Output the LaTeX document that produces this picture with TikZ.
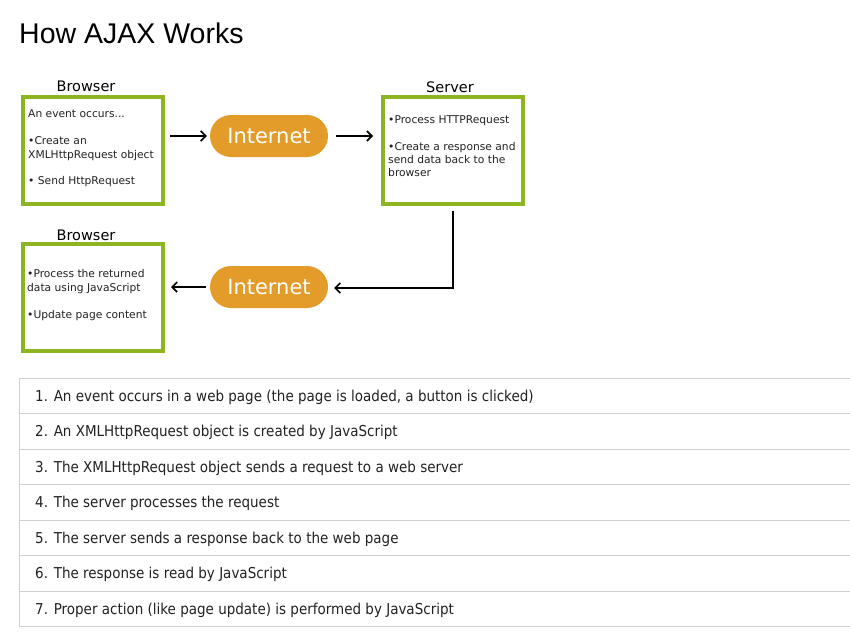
\documentclass[tikz,border=0pt]{standalone}
\usepackage{fontspec}
\setmainfont{DejaVu Sans}
\newfontfamily\titlefont{Liberation Sans}
\newfontfamily\condfont{DejaVu Sans Condensed}
\usetikzlibrary{arrows.meta,calc}
\definecolor{boxgreen}{HTML}{8CB521}
\definecolor{netorange}{HTML}{E39C2A}
\definecolor{rulegray}{HTML}{D0D0D0}
\definecolor{txt}{HTML}{222222}
\begin{document}
\begin{tikzpicture}[x=1pt,y=-1pt,
  gbox/.style={draw=boxgreen,line width=4pt,fill=white,minimum width=140pt,minimum height=107pt,inner sep=0pt},
  boxlabel/.style={font=\fontsize{14.5}{16}\selectfont,anchor=base},
  boxtext/.style={font=\fontsize{10.7}{12}\selectfont,anchor=base west,inner sep=0pt,text=txt},
  net/.style={fill=netorange,rounded corners=21pt,minimum width=118pt,minimum height=42pt,inner sep=0pt,text=white,font=\fontsize{21}{24}\selectfont},
  flow/.style={line width=1.8pt,-{Straight Barb[length=5pt,width=10pt,line width=1.6pt]}},
  rowtext/.style={font=\condfont\fontsize{15}{17}\selectfont,anchor=base west,inner sep=0pt,text=txt},
  rowline/.style={draw=rulegray,line width=1pt}]
\useasboundingbox (0,0) rectangle (850,642);
\fill[white] (0,0) rectangle (850,642);
% title
\node[font=\titlefont\fontsize{28.5}{32}\selectfont,anchor=base west,inner sep=0pt] (title) at (19,44) {How AJAX Works};
% browser 1
\node[gbox] (b1) at (93,150) {};
\node[boxlabel] (b1l) at (86,91) {Browser};
\node[boxtext] (b1t1) at (28,117) {An event occurs...};
\node[boxtext] (b1t2) at (28,144) {\textbullet Create an};
\node[boxtext] (b1t3) at (28,158) {XMLHttpRequest object};
\node[boxtext] (b1t4) at (28,184) {\textbullet\ Send HttpRequest};
% internet 1
\node[net] (n1) at (269,136) {Internet};
% server
\node[gbox] (s) at (453,150) {};
\node[boxlabel] (sl) at (450,92) {Server};
\node[boxtext] (st1) at (388,123) {\textbullet Process HTTPRequest};
\node[boxtext] (st2) at (388,150) {\textbullet Create a response and};
\node[boxtext] (st3) at (388,163) {send data back to the};
\node[boxtext] (st4) at (388,176) {browser};
% internet 2
\node[net] (n2) at (269,287) {Internet};
% browser 2
\node[gbox] (b2) at (93,297.5) {};
\node[boxlabel] (b2l) at (86,240) {Browser};
\node[boxtext] (b2t1) at (27,277) {\textbullet Process the returned};
\node[boxtext] (b2t2) at (27,291) {data using JavaScript};
\node[boxtext] (b2t3) at (27,318) {\textbullet Update page content};
% connectors
\draw[flow,shorten <=5pt,shorten >=3pt] (b1.east |- n1.west) -- (n1.west);
\draw[flow,shorten <=8pt,shorten >=8pt] (n1.east) -- (n1.east -| s.west);
\coordinate (bend) at (453,288);
\draw[flow,shorten <=5pt,shorten >=6pt] (s.south) -- (bend) -- (bend -| n2.east);
\draw[flow,shorten <=4pt,shorten >=6pt] (n2.west) -- (n2.west -| b2.east);
% table
\coordinate (tl) at (19,378);
\coordinate (bl) at (19,626);
\draw[rowline] (tl) -- (bl);
\foreach \y in {378,413.5,449,484.5,520,555.5,591,626} {\draw[rowline] (19,\y) -- (850,\y);}
\node[rowtext] (r1) at (35,401) {1. An event occurs in a web page (the page is loaded, a button is clicked)};
\node[rowtext] (r2) at (35,436.5) {2. An XMLHttpRequest object is created by JavaScript};
\node[rowtext] (r3) at (35,472) {3. The XMLHttpRequest object sends a request to a web server};
\node[rowtext] (r4) at (35,507.5) {4. The server processes the request};
\node[rowtext] (r5) at (35,543) {5. The server sends a response back to the web page};
\node[rowtext] (r6) at (35,578.5) {6. The response is read by JavaScript};
\node[rowtext] (r7) at (35,614) {7. Proper action (like page update) is performed by JavaScript};
\end{tikzpicture}
\end{document}
